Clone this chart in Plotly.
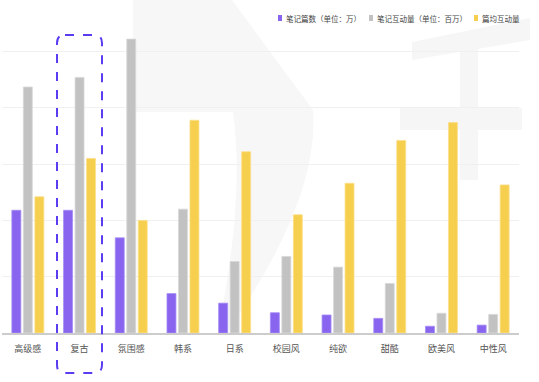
import plotly.graph_objects as go

categories = ["高级感", "复古", "氛围感", "韩系", "日系", "校园风", "纯欲", "甜酷", "欧美风", "中性风"]
notes_count = [2.18, 2.18, 1.69, 0.70, 0.53, 0.36, 0.32, 0.26, 0.12, 0.14]
notes_interact = [4.37, 4.54, 5.22, 2.20, 1.27, 1.36, 1.17, 0.88, 0.35, 0.33]
avg_interact = [2.42, 3.10, 2.00, 3.78, 3.22, 2.10, 2.66, 3.42, 3.74, 2.63]
series_names = ["笔记篇数（单位：万）", "笔记互动量（单位：百万）", "篇均互动量"]
colors = ["#8864ef", "#c2c2c2", "#f7cf4f"]
edge = ["#a58df5", "#d8d8d8", "#fbe08a"]

FONT = "Noto Sans CJK SC"
fig = go.Figure()
for name, vals, c, e in zip(series_names, [notes_count, notes_interact, avg_interact], colors, edge):
    fig.add_trace(go.Bar(x=categories, y=vals, name=name, marker=dict(color=c, line=dict(color=e, width=0.8)),
                         showlegend=False, hoverinfo="skip"))

W, H = 539, 382
ml, mr, mt, mb = 2, 20, 23, 49
pw, ph = W - ml - mr, H - mt - mb

def px(x):
    return (x - ml) / pw

def py(y):
    return (H - mb - y) / ph

WM = "#f6f6f6"
shapes = []
# faint watermark-like background shapes
shapes.append(dict(type="path", xref="paper", yref="paper",
                   path=f"M {px(412)} {py(42)} L {px(530)} {py(18)} L {px(530)} {py(40)} L {px(412)} {py(60)} Z",
                   fillcolor=WM, line=dict(width=0), layer="below"))
shapes.append(dict(type="rect", xref="paper", yref="paper", x0=px(460), x1=px(478), y0=py(180), y1=py(35),
                   fillcolor=WM, line=dict(width=0), layer="below"))
shapes.append(dict(type="rect", xref="paper", yref="paper", x0=px(400), x1=px(522), y0=py(130), y1=py(108),
                   fillcolor=WM, line=dict(width=0), layer="below"))
shapes.append(dict(type="path", xref="paper", yref="paper",
                   path=(f"M {px(133)} {py(0)} L {px(232)} {py(0)} L {px(313)} {py(110)} "
                         f"Q {px(320)} {py(200)} {px(225)} {py(335)} L {px(218)} {py(330)} "
                         f"Q {px(245)} {py(200)} {px(233)} {py(112)} L {px(133)} {py(112)} Z"),
                   fillcolor="#f7f7f7", line=dict(width=0), layer="below"))

# dashed rounded highlight box around 复古
x0, x1, y0, y1 = 57, 102, 35, 373
r = 8
rx, ry = r / pw, r / ph
X0, X1, Yt, Yb = px(x0), px(x1), py(y0), py(y1)
path = (f"M {X0+rx} {Yt} L {X1-rx} {Yt} Q {X1} {Yt} {X1} {Yt-ry} L {X1} {Yb+ry} Q {X1} {Yb} {X1-rx} {Yb} "
        f"L {X0+rx} {Yb} Q {X0} {Yb} {X0} {Yb+ry} L {X0} {Yt-ry} Q {X0} {Yt} {X0+rx} {Yt} Z")
shapes.append(dict(type="path", xref="paper", yref="paper", path=path,
                   line=dict(color="#5a3df0", width=2, dash="dash")))

# custom legend
annotations = []
leg_x = [278, 369, 474]
for lx, name, c in zip(leg_x, series_names, colors):
    shapes.append(dict(type="rect", xref="paper", yref="paper", x0=px(lx), x1=px(lx + 4),
                       y0=py(21), y1=py(15), fillcolor=c, line=dict(width=0)))
    annotations.append(dict(x=px(lx + 6), y=py(18), xref="paper", yref="paper", text=name, showarrow=False,
                            xanchor="left", yanchor="middle", font=dict(size=7.5, color="#444", family=FONT)))

fig.update_layout(
    width=W, height=H,
    margin=dict(l=ml, r=mr, t=mt, b=mb),
    paper_bgcolor="white", plot_bgcolor="rgba(0,0,0,0)",
    barmode="group", bargap=0.333, bargroupgap=0.22,
    font=dict(family=FONT, size=9, color="#555"),
    xaxis=dict(showline=True, linecolor="#cccccc", linewidth=1.5, ticks="", tickfont=dict(size=9, color="#555"),
               showgrid=False, ticklabelstandoff=6),
    yaxis=dict(range=[0, ph / 56.3], dtick=1, showticklabels=False, showgrid=True, gridcolor="#f0f0f0",
               zeroline=False),
    shapes=shapes, annotations=annotations,
)
fig.write_html("out.html", config={"displayModeBar": False},
               post_script="document.body.style.margin='0';")
